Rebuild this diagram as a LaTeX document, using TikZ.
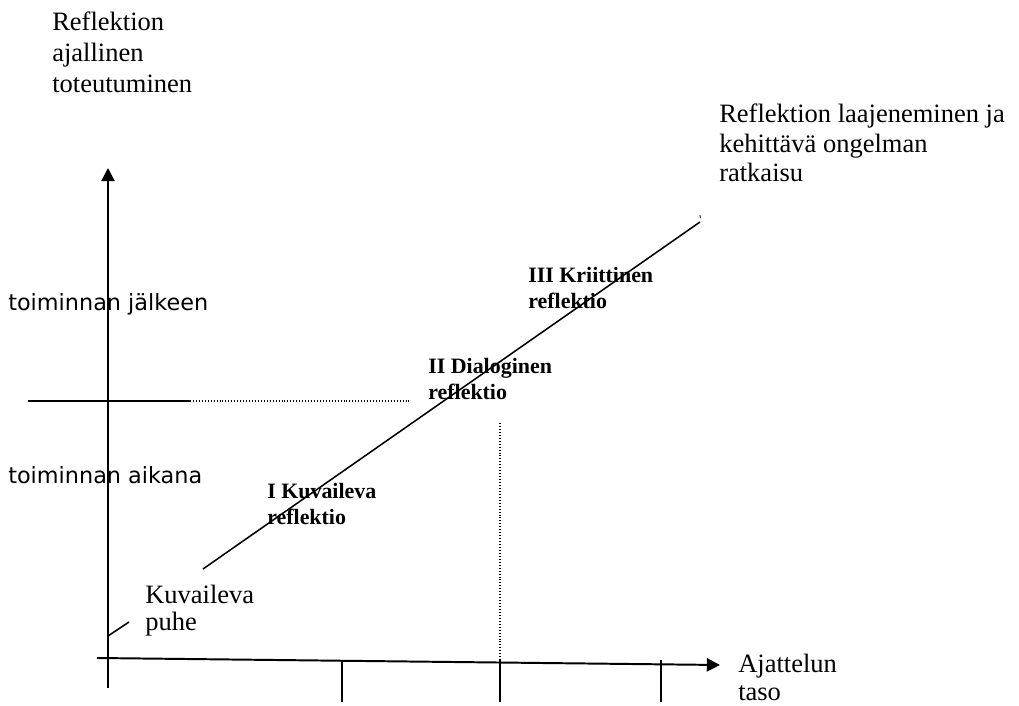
\documentclass[tikz,border=0pt]{standalone}
\usepackage{fontspec}
\setmainfont{Liberation Serif}
\newfontfamily\whenfont{DejaVu Sans}
\usetikzlibrary{arrows.meta,positioning,calc}

\begin{document}
\begin{tikzpicture}[
  axis/.style={-{Triangle[length=3.3mm,width=3.3mm]}, line width=1.4pt},
  tickline/.style={line width=1.4pt},
  diag/.style={line width=1.1pt},
  guide/.style={line width=0.8pt, dash pattern=on 0.7pt off 1.4pt},
  txt/.style={anchor=north west, inner sep=0pt, align=left,
    font=\fontsize{18.85}{21}\selectfont},
  phase/.style={anchor=north west, inner sep=0pt, align=left,
    font=\fontsize{15.6}{18.5}\selectfont\bfseries},
  when/.style={anchor=north west, inner sep=0pt,
    font=\whenfont\fontsize{15.9}{19}\selectfont}
]
  \useasboundingbox (0,0) rectangle (25.475,17.625);

  % Axes
  \coordinate (ybot) at (2.7,  0.425);
  \coordinate (ytop) at (2.7,  13.425);
  \coordinate (xl)   at (2.425, 1.175);
  \coordinate (xr)   at (18.0,  1.0);
  \draw[axis] (ybot) -- (ytop);
  \draw[axis] (xl) -- (xr);

  % Ticks on the level axis
  \foreach \x in {8.55, 12.5, 16.525}
    \draw[tickline] (\x, 1.12) -- (\x, 0.075);

  % Time split: solid part, then dotted
  \coordinate (hl) at (0.7,   7.6);
  \coordinate (hm) at (4.75,  7.6);
  \coordinate (hr) at (10.25, 7.6);
  \draw[tickline, line width=1.2pt] (hl) -- (hm);
  \draw[guide] (hm) -- (hr);

  % Dotted drop from the dialogue phase
  \coordinate (dtop) at (12.5, 7.05);
  \coordinate (dbot) at (12.5, 1.1);
  \draw[guide] (dtop) -- (dbot);

  % Diagonal of the reflection levels
  \coordinate (d0) at (2.7,   1.725);
  \coordinate (d1) at (3.225, 2.075);
  \coordinate (d2) at (5.075, 3.4);
  \coordinate (d3) at (17.5,  12.075);
  \draw[diag] (d0) -- (d1);
  \draw[diag] (d2) -- (d3);
  \coordinate (dmark) at (17.5, 12.25);
  \draw[line width=0.6pt] (dmark) -- ++(0.01,-0.08);

  % Axis and corner texts
  \node[txt, font=\fontsize{18.85}{22}\selectfont]
    (yname)  at (1.3,    17.325) {Reflektion\\ajallinen\\toteutuminen};
  \node[txt] (goal)   at (17.975, 15.025) {Reflektion laajeneminen ja\\kehittävä ongelman\\ratkaisu};
  \node[txt, font=\fontsize{18.85}{19.4}\selectfont]
    (start)  at (3.625,  3.0)    {Kuvaileva\\puhe};
  \node[txt, font=\fontsize{18.85}{19.8}\selectfont]
    (xname)  at (18.45,  1.27)   {Ajattelun\\taso};

  % Time labels
  \node[when] (after)  at (0.2, 10.3)  {toiminnan jälkeen};
  \node[when] (during) at (0.2, 5.975) {toiminnan aikana};

  % Phases
  \node[phase] (p1) at (6.675, 5.55)  {I Kuvaileva\\reflektio};
  \node[phase] (p2) at (10.7,  8.675) {II Dialoginen\\reflektio};
  \node[phase] (p3) at (13.2,  10.95) {III Kriittinen\\reflektio};
\end{tikzpicture}
\end{document}
